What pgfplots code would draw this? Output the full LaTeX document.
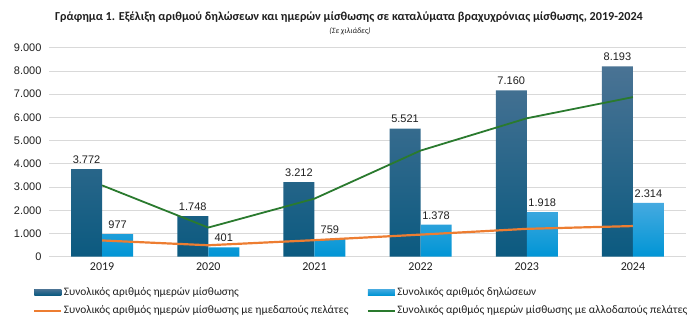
\documentclass[border=0pt]{standalone}
\usepackage{pgfplots}
\pgfplotsset{compat=1.18}
\usepackage{pgfplotstable}
\usepackage{fontspec}
\setmainfont{Liberation Sans}
\newfontfamily\calfont{Carlito}
\definecolor{darkTop}{HTML}{4A7394}
\definecolor{darkBot}{HTML}{0B5A80}
\definecolor{lightTop}{HTML}{45AAE0}
\definecolor{lightBot}{HTML}{0095D5}
\definecolor{orangeL}{HTML}{ED7D31}
\definecolor{greenL}{HTML}{2A7A2E}
\definecolor{gridc}{HTML}{D9D9D9}
\definecolor{txt}{HTML}{1F1F1F}
\pgfplotstableread{
year dark light orange green
0 3772 977 700 3072
1 1748 401 493 1255
2 3212 759 712 2500
3 5521 1378 951 4570
4 7160 1918 1200 5960
5 8193 2314 1320 6873
}\data
\pgfkeys{/pgf/number format/.cd,1000 sep={.},assume math mode=true}
\begin{document}
\begin{tikzpicture}[x=1pt,y=1pt]
\useasboundingbox (0,0) rectangle (688,-322);
\node[font=\calfont\bfseries\fontsize{12.2}{14}\selectfont, text=txt] at (349,-17) {Γράφημα 1. Εξέλιξη αριθμού δηλώσεων και ημερών μίσθωσης σε καταλύματα βραχυχρόνιας μίσθωσης, 2019-2024};
\node[font=\calfont\itshape\fontsize{8}{9}\selectfont, text=txt] at (350,-31) {(Σε χιλιάδες)};
\begin{axis}[
  at={(49pt,-256.7pt)}, anchor=south west,
  scale only axis, width=637pt, height=209pt,
  xmin=-0.5, xmax=5.5, ymin=0, ymax=9000,
  ytick={0,1000,...,9000},
  xtick=data, xticklabels={2019,2020,2021,2022,2023,2024},
  ymajorgrids, grid style={gridc, line width=0.8pt},
  axis x line*=bottom, axis y line*=left,
  y axis line style={draw=none},
  x axis line style={gridc, line width=0.8pt, -},
  major tick length=0pt,
  tick label style={font=\fontsize{11}{13}\selectfont, text=txt},
  yticklabel style={xshift=-4pt},
  xticklabel style={font=\calfont\fontsize{12}{14}\selectfont, yshift=-2pt},
  legend columns=2, legend cell align=left,
  legend style={at={(0,0)}, anchor=north west, xshift=-16pt, yshift=-29pt,
    draw=none, fill=none, inner sep=0pt, row sep=6pt,
    font=\calfont\fontsize{11.4}{13}\selectfont, text=txt,
    nodes={inner sep=1.5pt},
    /tikz/column 2/.style={column sep=17pt}},
  every node near coord/.append style={font=\fontsize{11}{13}\selectfont, text=txt, yshift=2pt},
]
\addplot[ybar, bar width=31pt, bar shift=-15.5pt, draw=none, top color=darkTop, bottom color=darkBot,
  nodes near coords, every node near coord/.append style={xshift=-15.5pt},
  legend image code/.code={\fill[darkBot!85!darkTop] (0pt,-3pt) rectangle (27pt,3pt);}]
  table[x=year,y=dark]{\data};
\addlegendentry{Συνολικός αριθμός ημερών μίσθωσης}
\addplot[ybar, bar width=31pt, bar shift=15.5pt, draw=none, top color=lightTop, bottom color=lightBot,
  nodes near coords, every node near coord/.append style={xshift=15.5pt},
  legend image code/.code={\fill[lightBot!80!lightTop] (0pt,-3pt) rectangle (27pt,3pt);}]
  table[x=year,y=light]{\data};
\addlegendentry{Συνολικός αριθμός δηλώσεων}
\addplot[orangeL, line width=2.2pt, mark=none,
  legend image code/.code={\draw[orangeL, line width=2.2pt] (0pt,0pt) -- (27pt,0pt);}]
  table[x=year,y=orange]{\data};
\addlegendentry{Συνολικός αριθμός ημερών μίσθωσης με ημεδαπούς πελάτες}
\addplot[greenL, line width=1.8pt, mark=none,
  legend image code/.code={\draw[greenL, line width=1.8pt] (0pt,0pt) -- (27pt,0pt);}]
  table[x=year,y=green]{\data};
\addlegendentry{Συνολικός αριθμός ημερών μίσθωσης με αλλοδαπούς πελάτες}
\end{axis}
\end{tikzpicture}
\end{document}
